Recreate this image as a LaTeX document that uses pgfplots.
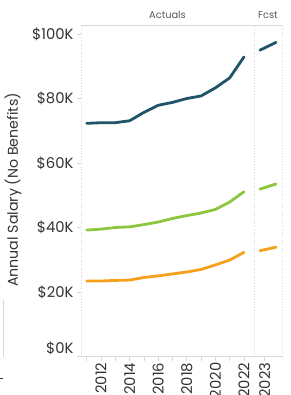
\documentclass[border=0pt]{standalone}
\usepackage{pgfplots}
\pgfplotsset{compat=1.18}
\usepackage{fontspec}
\setmainfont{Poppins}
\definecolor{cblue}{HTML}{1F5469}
\definecolor{cgreen}{HTML}{8DC63F}
\definecolor{corange}{HTML}{F7A01C}
\definecolor{ctext}{HTML}{333333}
\definecolor{chead}{HTML}{555555}
\definecolor{cframe}{HTML}{D9D9D9}
\begin{document}
\begin{tikzpicture}[x=1pt,y=1pt]
\useasboundingbox (0pt,0pt) rectangle (290pt,395pt);
\pgfplotsset{
  panel/.style={scale only axis, height=331.5pt, ymin=0, ymax=102.8,
    axis line style={draw=none}, tick align=outside,
    major tick length=4pt, minor tick length=4pt,
    tick style={cframe, line width=0.7pt},
    xtick pos=lower, ytick pos=left,
    /pgf/number format/assume math mode=true,
    ticklabel style={font=\fontsize{14.8}{15}\selectfont, text=ctext},
    xticklabel style={rotate=90, anchor=east, inner sep=2pt},
    every axis plot/.append style={line width=2.8pt, line join=round, line cap=round},
    clip=false}
}
\begin{axis}[panel, at={(81pt,38.5pt)}, anchor=south west, width=173pt,
  xmin=2010.6, xmax=2022.7,
  xtick={2012,2014,2016,2018,2020,2022},
  xticklabels={2012,2014,2016,2018,2020,2022},
  minor xtick={2011,2013,2015,2017,2019,2021},
  ytick={20,40,60,80,100},
  yticklabels={\$20K,\$40K,\$60K,\$80K,\$100K},
  extra y ticks={0}, extra y tick labels={\$0K},
  extra y tick style={yticklabel style={yshift=8pt}}]
\addplot[cblue] coordinates {(2011,72.3)(2012,72.5)(2013,72.5)(2014,73.1)(2015,75.7)(2016,77.9)(2017,78.8)(2018,80.0)(2019,80.8)(2020,83.3)(2021,86.4)(2022,92.9)};
\addplot[cgreen] coordinates {(2011,39.2)(2012,39.5)(2013,40.0)(2014,40.2)(2015,40.9)(2016,41.7)(2017,42.8)(2018,43.7)(2019,44.5)(2020,45.6)(2021,47.9)(2022,51.1)};
\addplot[corange] coordinates {(2011,23.4)(2012,23.4)(2013,23.6)(2014,23.7)(2015,24.5)(2016,25.0)(2017,25.6)(2018,26.2)(2019,27.0)(2020,28.4)(2021,29.9)(2022,32.3)};
\end{axis}
\begin{axis}[panel, at={(254pt,38.5pt)}, anchor=south west, width=28pt,
  xmin=2022.625, xmax=2024.375,
  xtick={2023.3}, xticklabels={2023}, ytick=\empty]
\addplot[cblue] coordinates {(2023,95.0)(2024,97.4)};
\addplot[cgreen] coordinates {(2023,51.9)(2024,53.5)};
\addplot[corange] coordinates {(2023,32.8)(2024,33.9)};
\end{axis}
% frame
\draw[cframe, line width=0.7pt] (81pt,370pt) -- (282pt,370pt);
\draw[cframe, line width=0.7pt] (81pt,38.5pt) -- (282pt,38.5pt);
\foreach \xx in {81,254,282} \draw[cframe, line width=0.7pt, dotted] (\xx pt,38.5pt) -- (\xx pt,370pt);
% headers
\node[font=\fontsize{9.8}{10}\selectfont, text=chead] at (167.5pt,380pt) {Actuals};
\node[font=\fontsize{9.8}{10}\selectfont, text=chead] at (268pt,380pt) {Fcst};
% y label
\node[rotate=90, font=\fontsize{14.2}{15}\selectfont, text=ctext] at (13pt,205pt) {Annual Salary (No Benefits)};
% left artifacts
\draw[cframe, line width=0.6pt] (3.5pt,38pt) -- (3.5pt,95pt);
\draw[ctext, line width=0.6pt] (0pt,17pt) -- (2.5pt,17pt);
\end{tikzpicture}
\end{document}
